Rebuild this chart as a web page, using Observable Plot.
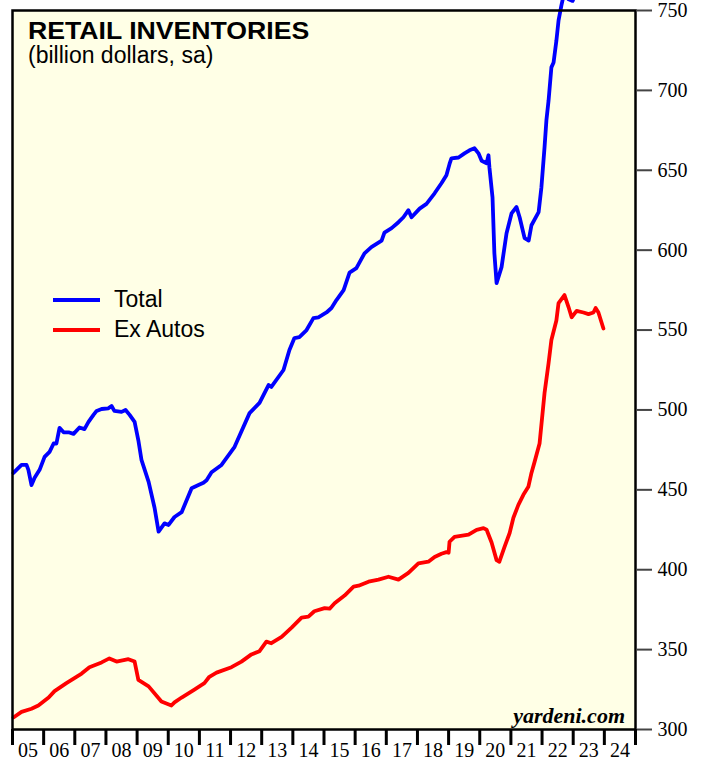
<!DOCTYPE html>
<html>
<head>
<meta charset="utf-8">
<script src="https://cdn.jsdelivr.net/npm/d3@7"></script>
<script src="https://cdn.jsdelivr.net/npm/@observablehq/plot@0.6"></script>
<style>
  html, body { margin: 0; padding: 0; background: white; }
  #wrap { position: relative; width: 717px; height: 761px; overflow: hidden; }
  .ov { position: absolute; white-space: nowrap; line-height: 1; color: black; }
  #title { left: 28px; top: 17px; font: bold 24px "Liberation Sans", Arial, sans-serif; transform: scaleX(1.11); transform-origin: left; }
  #subtitle { left: 28px; top: 42px; font: 23px "Liberation Sans", Arial, sans-serif; }
  .leg { left: 53px; font: 23px "Liberation Sans", Arial, sans-serif; display: flex; align-items: center; }
  .leg svg { margin-right: 14px; }
  #src { right: 92px; top: 703px; font: italic bold 22px "Liberation Serif", "Times New Roman", serif; }
</style>
</head>
<body>
<div id="wrap">
  <div id="chart"></div>
  <div class="ov" id="title">RETAIL INVENTORIES</div>
  <div class="ov" id="subtitle">(billion dollars, sa)</div>
  <div class="ov leg" style="top:286px"><svg width="47" height="22"><line x1="0" x2="47" y1="11" y2="11" stroke="#0000ff" stroke-width="4"/></svg><span id="lg1"></span></div>
  <div class="ov leg" style="top:316px"><svg width="47" height="22"><line x1="0" x2="47" y1="11" y2="11" stroke="#ff0000" stroke-width="4"/></svg><span id="lg2"></span></div>
  <div class="ov" id="src">yardeni.com</div>
</div>
<script>
// Series names
const seriesNames = ["Total", "Ex Autos"];
const seriesColors = ["#0000ff", "#ff0000"];

// Tick labels
const yTicks = [300, 350, 400, 450, 500, 550, 600, 650, 700, 750];
const yearEdges = d3.range(2005, 2026);
const yearLabels = ["05","06","07","08","09","10","11","12","13","14","15","16","17","18","19","20","21","22","23","24"];

// Total retail inventories (decimal year, billion $)
const totalDates = [2005.03,2005.29,2005.45,2005.51,2005.61,2005.71,2005.87,2006.03,2006.19,2006.32,2006.41,2006.51,2006.64,2006.80,2006.96,2007.15,2007.31,2007.44,2007.60,2007.70,2007.86,2008.08,2008.18,2008.27,2008.50,2008.63,2008.76,2008.92,2009.04,2009.14,2009.37,2009.56,2009.69,2009.88,2010.01,2010.20,2010.43,2010.75,2010.97,2011.13,2011.23,2011.39,2011.71,2012.13,2012.61,2012.93,2013.22,2013.31,2013.70,2013.89,2014.05,2014.21,2014.44,2014.66,2014.82,2015.08,2015.24,2015.40,2015.63,2015.82,2016.04,2016.30,2016.52,2016.85,2016.94,2017.17,2017.39,2017.55,2017.71,2017.81,2018.07,2018.29,2018.55,2018.77,2018.93,2019.03,2019.09,2019.32,2019.51,2019.67,2019.83,2019.96,2020.06,2020.22,2020.28,2020.31,2020.41,2020.47,2020.54,2020.70,2020.86,2021.02,2021.18,2021.28,2021.44,2021.57,2021.66,2021.89,2021.98,2022.08,2022.14,2022.21,2022.30,2022.37,2022.46,2022.53,2022.62,2022.72,2022.85,2022.98,2023.11,2023.33,2023.59,2023.81,2023.97];
const totalValues = [460.6,465.6,465.6,462.5,453,457.5,462.5,470.6,473.8,479,479,488.8,486,486,485,489,488,492.5,496.9,499.4,500.6,501,502.5,499.4,498.8,500,496.9,492.5,481,468.8,455,438.8,423.8,429,428,433,436,451,453,454.4,456,461,465.6,476.9,498,504.4,515.6,514.4,525,537.5,545,545.6,550,557.5,558,561,563.8,568.8,575,586,588.8,598,601.9,606,611,613.8,617.5,620.6,625,620.6,626,629,635.6,641.9,646.9,654,657.5,658,660.6,662.5,663.8,660.6,656,654.4,659.4,651.9,633,598,579.4,589.4,610.6,623,627,620.6,607.5,606,615.6,623.8,639.4,664.4,681.3,693.8,714.4,717.5,731,743.8,753,762,757,756,762,770,775,778,772];

// Retail inventories ex autos (decimal year, billion $)
const exAutosDates = [2005.03,2005.29,2005.61,2005.83,2006.16,2006.35,2006.73,2007.22,2007.47,2007.86,2008.11,2008.34,2008.72,2008.92,2009.04,2009.37,2009.78,2010.10,2010.20,2010.43,2010.84,2011.16,2011.32,2011.55,2012.03,2012.35,2012.67,2012.93,2013.15,2013.31,2013.64,2013.96,2014.28,2014.50,2014.69,2015.02,2015.18,2015.34,2015.66,2015.95,2016.11,2016.43,2016.75,2017.07,2017.39,2017.71,2018.03,2018.35,2018.55,2018.77,2018.93,2019.00,2019.03,2019.19,2019.64,2019.90,2020.12,2020.22,2020.38,2020.54,2020.63,2020.79,2020.96,2021.08,2021.24,2021.40,2021.56,2021.66,2021.76,2021.92,2022.08,2022.21,2022.30,2022.46,2022.53,2022.72,2022.85,2022.95,2023.11,2023.33,2023.49,2023.65,2023.72,2023.81,2023.97];
const exAutosValues = [307.5,311,313,315,320,324,329,335,339,342,344.5,342.5,344,342.5,331,327,317.5,315,317,320,325,329,333,335.6,339,342.5,347,349,355,354,358,363.8,370,370.6,374,376,375.6,379,383.8,389.4,390,392.5,393.8,395.6,393.8,398,404,405,408,410,411,410.6,417.5,420.6,421.9,425,426,425,417,406,405,414,423,432.5,440.6,446.9,451.9,460.6,467.5,479,510.6,529.4,543.8,556,566.9,571.9,564.4,558,562,561,560,561,563.8,561,551];

document.getElementById("lg1").textContent = seriesNames[0];
document.getElementById("lg2").textContent = seriesNames[1];

const total = totalDates.map((d, i) => ({year: d, value: totalValues[i]}));
const exAutos = exAutosDates.map((d, i) => ({year: d, value: exAutosValues[i]}));

const chart = Plot.plot({
  width: 717,
  height: 761,
  marginLeft: 12,
  marginRight: 82,
  marginTop: 10,
  marginBottom: 32,
  style: {background: "white", fontFamily: "'Liberation Serif', 'Times New Roman', serif", color: "black"},
  x: {domain: [2005, 2025], axis: null, label: null},
  y: {domain: [300, 750], axis: null, label: null},
  marks: [
    Plot.frame({fill: "#ffffe6", stroke: null}),
    Plot.line(total, {x: "year", y: "value", stroke: seriesColors[0], strokeWidth: 3.8, strokeLinejoin: "round", strokeLinecap: "round"}),
    Plot.line(exAutos, {x: "year", y: "value", stroke: seriesColors[1], strokeWidth: 3.8, strokeLinejoin: "round", strokeLinecap: "round"}),
    Plot.frame({stroke: "black", strokeWidth: 2.5}),
    Plot.axisY({anchor: "right", label: null, ticks: yTicks, tickSize: 16, tickPadding: 6, stroke: "#444", strokeWidth: 2, fill: "black", fontSize: 20, tickFormat: d => String(d)}),
    Plot.axisX({anchor: "bottom", label: null, ticks: yearEdges, tickSize: 16, stroke: "black", strokeWidth: 3, tickFormat: () => ""}),
    Plot.axisX({anchor: "bottom", label: null, ticks: yearEdges.slice(0, -1).map(y => y + 0.5), tickSize: 0, tickPadding: 13, fill: "black", fontSize: 20, tickFormat: d => yearLabels[Math.floor(d) - 2005]})
  ]
});
document.getElementById("chart").appendChild(chart);
</script>
</body>
</html>
